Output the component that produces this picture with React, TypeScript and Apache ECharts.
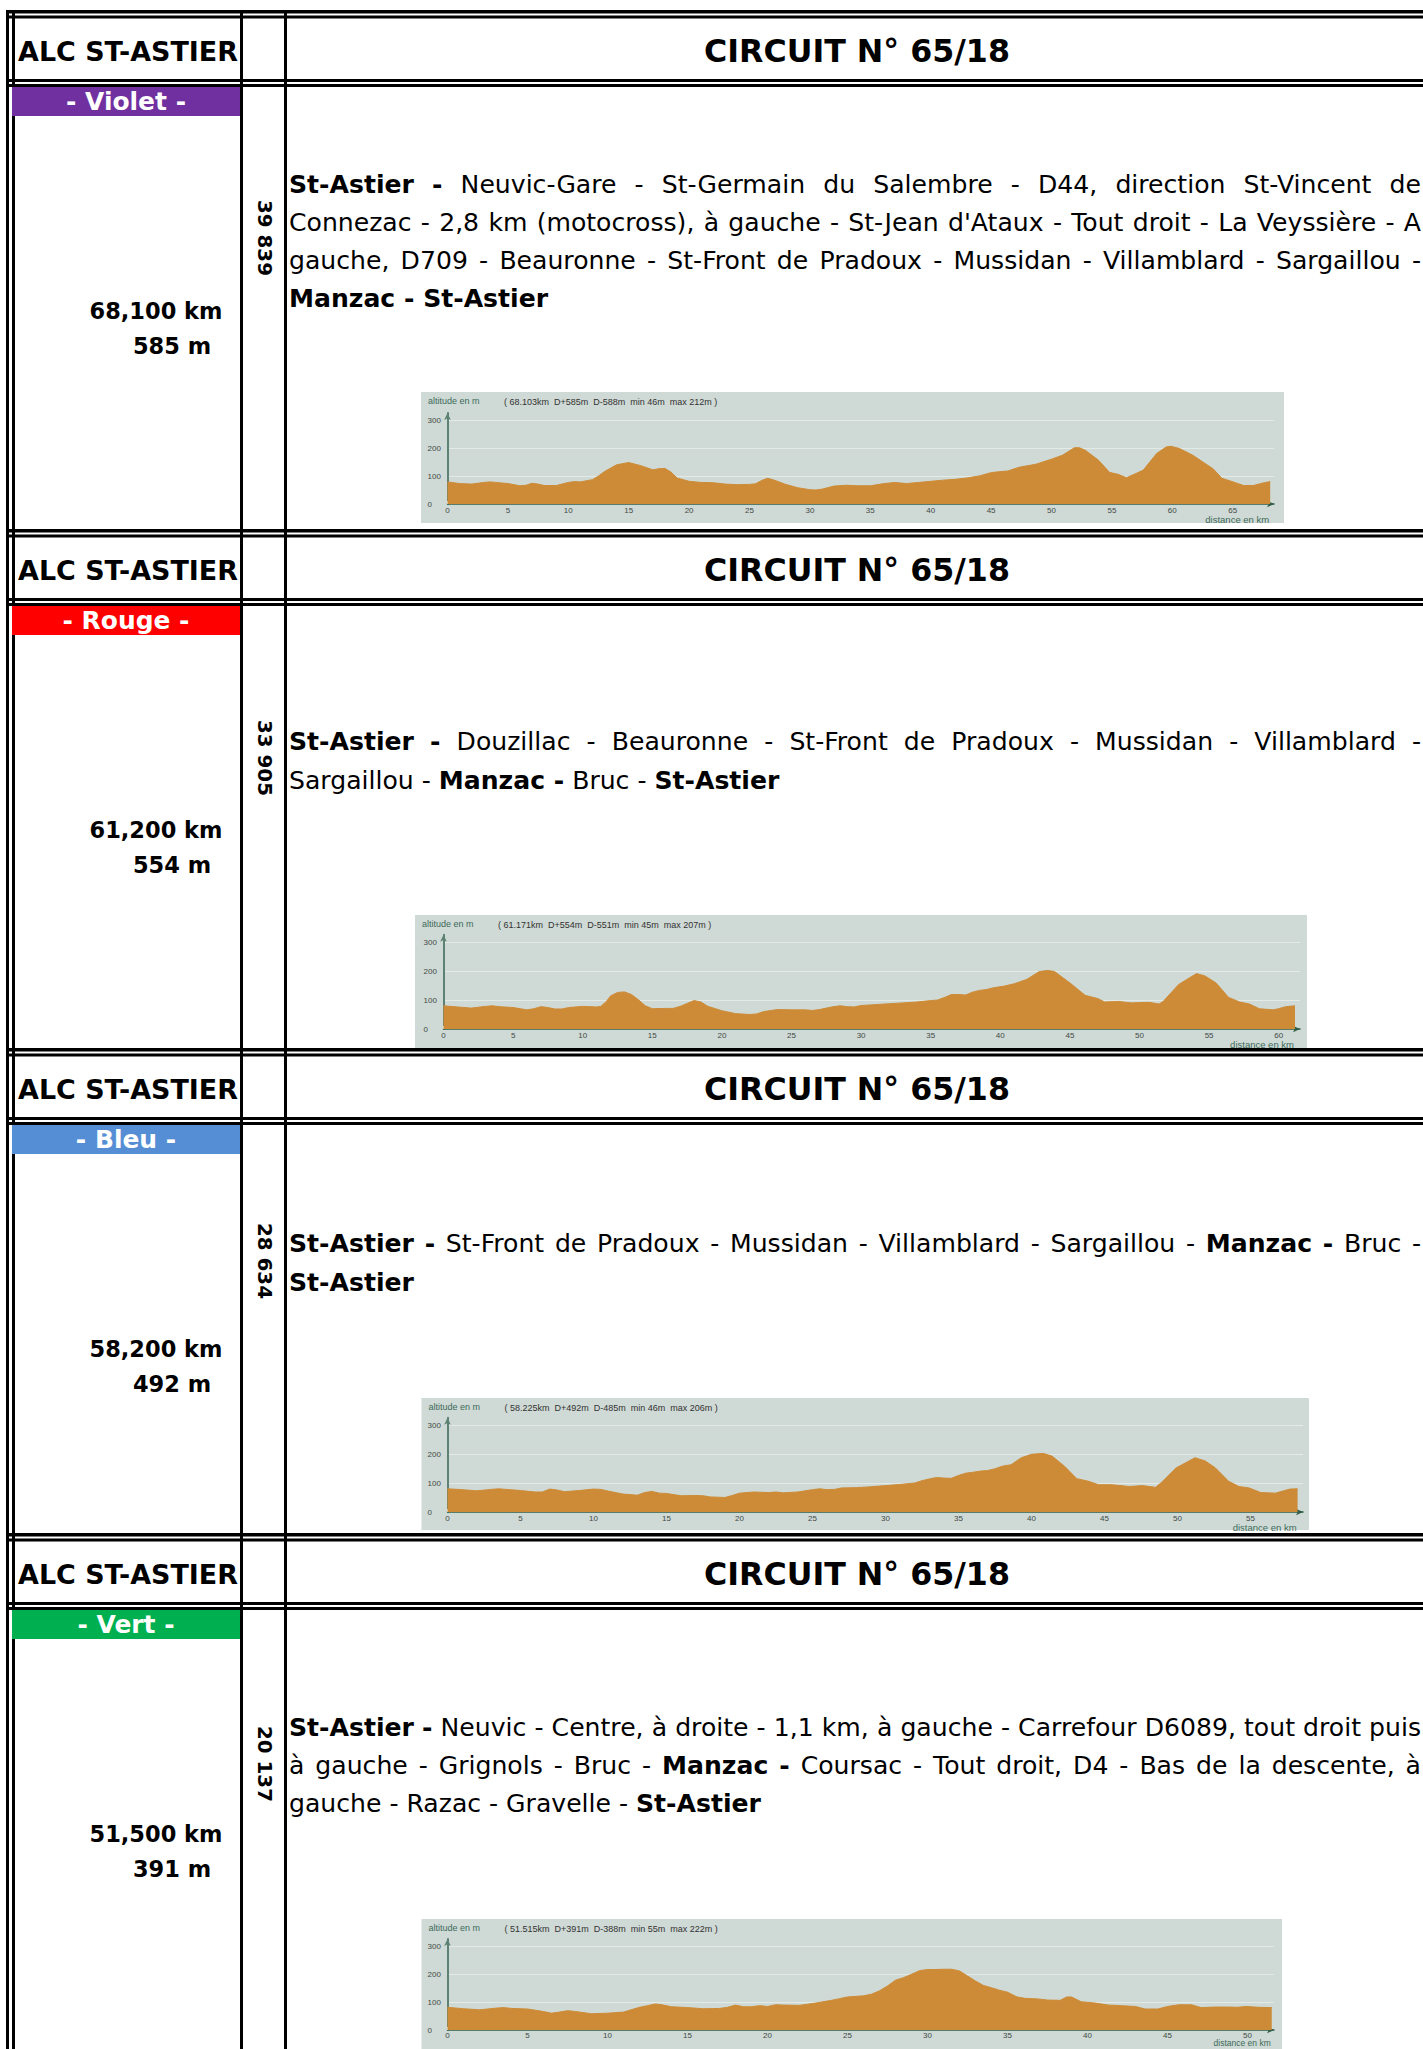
import React, { useEffect, useRef } from 'react';
import * as echarts from 'echarts';

const W = 1423;
const H = 2049;
const BODY_FONT = '"Comic Sans MS", "DejaVu Sans", "Noto Sans", sans-serif';
const SMALL_FONT = '"Liberation Sans", Arial, sans-serif';
const ORANGE = '#cd8b37';
const PANEL_BG = '#cfd9d5';

// ---------- texts ----------
const headerLeft = 'ALC ST-ASTIER';
const headerTitle = 'CIRCUIT N° 65/18';
const colorNames = ['- Violet -', '- Rouge -', '- Bleu -', '- Vert -'];
const bandColors = ['#7030a0', '#ff0000', '#558ed5', '#00b050'];
const distances = ['68,100 km', '61,200 km', '58,200 km', '51,500 km'];
const climbs = ['585 m', '554 m', '492 m', '391 m'];
const codes = ['39 839', '33 905', '28 634', '20 137'];
const stats = [
  '( 68.103km  D+585m  D-588m  min 46m  max 212m )',
  '( 61.171km  D+554m  D-551m  min 45m  max 207m )',
  '( 58.225km  D+492m  D-485m  min 46m  max 206m )',
  '( 51.515km  D+391m  D-388m  min 55m  max 222m )',
];
// [bold] parts in brackets; second item: justified
const routeViolet: [string, boolean][] = [
  ['[St-Astier -] Neuvic-Gare - St-Germain du Salembre - D44, direction St-Vincent de', true],
  ["Connezac - 2,8 km (motocross), à gauche - St-Jean d'Ataux - Tout droit - La Veyssière - A", true],
  ['gauche, D709 - Beauronne - St-Front de Pradoux - Mussidan - Villamblard - Sargaillou -', true],
  ['[Manzac - St-Astier]', false],
];
const routeRouge: [string, boolean][] = [
  ['[St-Astier -] Douzillac - Beauronne - St-Front de Pradoux - Mussidan - Villamblard -', true],
  ['Sargaillou - [Manzac -] Bruc - [St-Astier]', false],
];
const routeBleu: [string, boolean][] = [
  ['[St-Astier -] St-Front de Pradoux - Mussidan - Villamblard - Sargaillou - [Manzac -] Bruc -', true],
  ['[St-Astier]', false],
];
const routeVert: [string, boolean][] = [
  ['[St-Astier -] Neuvic - Centre, à droite - 1,1 km, à gauche - Carrefour D6089, tout droit puis', true],
  ['à gauche - Grignols - Bruc - [Manzac -] Coursac - Tout droit, D4 - Bas de la descente, à', true],
  ['gauche - Razac - Gravelle - [St-Astier]', false],
];
const routes = [routeViolet, routeRouge, routeBleu, routeVert];

// ---------- profile data [km, altitude m] ----------
const violetProfile = [
  [0, 79], [1, 73], [2, 71], [3, 77], [3.5, 79], [4, 77], [5, 73], [6, 65], [6.5, 67], [7, 74], [7.5, 71], [8, 66], [9, 66],
  [10, 77], [10.5, 80], [11, 79], [12, 87], [12.5, 100], [13, 116], [14, 140], [15, 148], [16, 137], [17, 122], [17.5, 126],
  [18, 127], [18.5, 114], [19, 93], [20, 81], [21, 77], [22, 76], [23, 71], [24, 69], [25, 70], [25.5, 72], [26, 84], [26.5, 92],
  [27, 86], [28, 70], [29, 58], [30, 51], [30.5, 50], [31, 53], [32, 64], [33, 67], [34, 65], [35, 65], [36, 72], [37, 77],
  [38, 73], [39, 77], [40, 81], [41, 85], [42, 88], [43, 93], [44, 100], [45, 112], [45.6, 115], [46.4, 118], [47.3, 131],
  [48.7, 142], [50, 160], [50.9, 174], [51.9, 201], [52.3, 201], [52.8, 192], [53.9, 156], [54.8, 113], [55.5, 106], [56.2, 94],
  [57, 109], [57.6, 121], [58.7, 180], [59.5, 204], [59.9, 206], [60.6, 198], [61.7, 174], [62.6, 148], [63.4, 125], [64.1, 92],
  [65.1, 78], [65.9, 66], [66.7, 66], [67.6, 76], [68.103, 80],
];
const rougeProfile = [
  [0, 80], [1, 76], [2, 72], [3, 78], [3.5, 80], [4, 77], [5, 74], [6, 66], [6.5, 70], [7, 77], [7.5, 74], [8, 69], [8.5, 69],
  [9, 74], [10, 78], [11, 76], [11.3, 78], [11.7, 95], [12, 114], [12.5, 126], [13, 128], [13.5, 119], [14, 101], [14.5, 80],
  [15, 70], [16, 71], [16.5, 71], [17, 78], [17.5, 88], [18, 98], [18.5, 93], [19, 78], [20, 63], [21, 53], [22, 50], [22.5, 52],
  [23, 60], [24, 67], [25, 66], [26, 66], [26.5, 64], [27, 67], [28, 77], [28.5, 80], [29, 77], [29.5, 76], [30, 81], [31, 84],
  [32, 87], [33, 90], [34, 93], [35, 98], [35.5, 100], [36, 109], [36.5, 119], [37, 119], [37.5, 117], [38, 127], [38.5, 133],
  [39, 136], [39.5, 142], [40.3, 148], [41, 156], [41.9, 171], [42.8, 198], [43.4, 202], [43.9, 198], [45, 159], [46.1, 116],
  [47, 105], [47.5, 93], [48.5, 95], [49.4, 90], [50.7, 92], [51.4, 86], [51.7, 95], [52.8, 153], [53.4, 171], [54.1, 191],
  [54.7, 183], [55.5, 159], [56.4, 109], [57.2, 93], [57.9, 86], [58.6, 70], [59.6, 66], [60, 70], [60.5, 77], [61.171, 80],
];
const bleuProfile = [
  [0, 80], [1, 77], [2, 73], [3, 78], [3.5, 80], [4, 78], [5, 74], [6, 69], [6.5, 69], [7, 79], [7.5, 76], [8, 70], [9, 74],
  [10, 79], [10.5, 78], [11, 72], [12, 62], [13, 58], [13.5, 67], [14, 71], [14.5, 65], [15, 64], [16, 56], [17, 57], [17.5, 56],
  [18, 52], [19, 50], [19.5, 57], [20, 65], [21, 69], [22, 67], [22.5, 69], [23, 66], [24, 69], [25, 77], [25.5, 80], [26, 77],
  [26.5, 78], [27, 83], [28, 84], [29, 87], [30, 91], [31, 95], [32, 100], [32.5, 108], [33, 114], [33.5, 119], [34, 117],
  [34.5, 116], [35, 126], [35.5, 134], [36, 137], [36.5, 141], [37, 143], [37.5, 149], [38, 158], [38.6, 163], [39.3, 187],
  [40, 199], [40.8, 202], [41.4, 193], [42.3, 156], [43.1, 115], [43.9, 106], [44.6, 94], [45.5, 94], [46.7, 88], [47.6, 91],
  [48.5, 85], [48.9, 102], [49.9, 152], [51.2, 187], [51.9, 176], [52.6, 152], [53.5, 106], [54.2, 88], [54.9, 83], [55.7, 67],
  [56.7, 65], [57.7, 79], [58.225, 80],
];
const vertProfile = [
  [0, 81], [1, 76], [2, 72], [3, 78], [3.5, 80], [4, 77], [5, 75], [6, 66], [6.5, 60], [7, 64], [7.5, 69], [8, 66], [9, 58],
  [10, 60], [11, 64], [12, 81], [12.5, 87], [13, 93], [13.5, 89], [14, 83], [15, 80], [16, 76], [17, 77], [17.5, 81], [18, 89],
  [18.5, 83], [19, 83], [19.5, 87], [20, 84], [20.5, 90], [21, 89], [22, 88], [22.5, 92], [23, 96], [24, 106], [24.5, 112],
  [25, 118], [26, 122], [26.5, 128], [27, 140], [27.5, 157], [28, 178], [28.5, 187], [29, 199], [29.5, 212], [30, 216],
  [30.5, 216], [31, 217], [31.5, 217], [32, 211], [32.5, 193], [33, 175], [33.5, 159], [34, 151], [34.5, 142], [35, 135],
  [35.6, 118], [36.1, 113], [36.9, 111], [37.5, 107], [38.3, 106], [38.7, 118], [39, 118], [39.6, 101], [40.5, 96], [41.3, 89],
  [42.1, 87], [43, 84], [43.6, 75], [44.4, 75], [45, 84], [45.7, 90], [46.5, 90], [47.1, 80], [48, 82], [48.8, 82], [49.4, 81],
  [49.9, 84], [50.7, 81], [51.515, 80],
];
const profiles = [violetProfile, rougeProfile, bleuProfile, vertProfile];
const profileEnds = [68.103, 61.171, 58.225, 51.515];
const altitudeTicks = [0, 100, 200, 300];

// ---------- layout ----------
const sectionTops = [10, 529, 1048, 1533];
const textLineYs = [[184, 222, 260, 298], [741, 780], [1243, 1282], [1727, 1765, 1803]];
const codeYs = [238, 758, 1261, 1764];
const chartLayouts = [
  { box: [421, 392, 863, 131], ox: 447.5, oy: 504, pxKm: 12.08, px100: 28, xEnd: 1274 },
  { box: [415, 915, 892, 133], ox: 443.5, oy: 1029, pxKm: 13.92, px100: 29, xEnd: 1300 },
  { box: [421.5, 1398, 887.5, 132], ox: 447.5, oy: 1512, pxKm: 14.6, px100: 29, xEnd: 1303 },
  { box: [421.5, 1919, 860.5, 135], ox: 447.5, oy: 2030, pxKm: 16.0, px100: 28, xEnd: 1274 },
];
const TEXT_L = 289;
const TEXT_R = 1421;

function parseWords(line: string) {
  const words: { t: string; b: boolean }[] = [];
  let bold = false;
  let cur = '';
  let curBold = false;
  for (const ch of line) {
    if (ch === '[') { bold = true; continue; }
    if (ch === ']') { bold = false; continue; }
    if (ch === ' ') {
      if (cur) { words.push({ t: cur, b: curBold }); cur = ''; }
      continue;
    }
    if (!cur) curBold = bold;
    cur += ch;
  }
  if (cur) words.push({ t: cur, b: curBold });
  return words;
}

function buildOption() {
  const ctx = document.createElement('canvas').getContext('2d')!;
  const measure = (t: string, size: number, bold: boolean, family = BODY_FONT) => {
    ctx.font = `${bold ? 'bold ' : ''}${size}px ${family}`;
    return ctx.measureText(t).width;
  };
  const fit = (t: string, bold: boolean, target: number, cap: number) =>
    Math.min(cap, (30 * target) / measure(t, 30, bold));

  const g: any[] = [];
  const txt = (x: number, y: number, text: string, size: number, o: any = {}) =>
    g.push({
      type: 'text', x, y, z: 10, silent: true, rotation: o.rotation || 0,
      style: {
        text, fontSize: size, fontWeight: o.bold ? 'bold' : 'normal', fontFamily: o.family || BODY_FONT,
        fill: o.fill || '#000', textAlign: o.align || 'left', textVerticalAlign: 'middle',
      },
    });
  const rect = (x: number, y: number, w: number, h: number, fill: string, z = 5) =>
    g.push({ type: 'rect', z, silent: true, shape: { x, y, width: w, height: h }, style: { fill } });

  // borders
  rect(6, 10, 3, H - 10, '#000');
  rect(12, 10, 3, H - 10, '#000');
  rect(240, 10, 3, H - 10, '#000');
  rect(284, 10, 3, H - 10, '#000');
  sectionTops.forEach((T) => {
    rect(6, T, W - 6, 3.5, '#000');
    rect(6, T + 5.5, W - 6, 3, '#000');
    rect(6, T + 69, W - 6, 3, '#000');
    rect(6, T + 74, W - 6, 3, '#000');
  });

  const headerSize = fit(headerLeft, true, 220, 30);
  const titleSize = fit(headerTitle, true, 306, 38);
  const plain2 = routeViolet[1][0].replace(/[\[\]]/g, '');
  const bodySize = Math.max(22, Math.min(26.5, (25 * 1110) / measure(plain2, 25, false)));
  const codeSize = fit(codes[0], true, 76, 26);
  const kmSize = fit(distances[0], true, 133, 27);
  const bandSize = fit(colorNames[0], true, 120, 25);

  sectionTops.forEach((T, i) => {
    txt(128, T + 41, headerLeft, headerSize, { bold: true, align: 'center' });
    txt(857, T + 41, headerTitle, titleSize, { bold: true, align: 'center' });
    rect(12, T + 77, 228, 29, bandColors[i], 6);
    txt(126, T + 91.5, colorNames[i], bandSize, { bold: true, align: 'center', fill: '#fff' });
    txt(156, T + 301, distances[i], kmSize, { bold: true, align: 'center' });
    txt(172, T + 336, climbs[i], kmSize, { bold: true, align: 'center' });
    txt(264, codeYs[i], codes[i], codeSize, { bold: true, align: 'center', rotation: -Math.PI / 2 });

    routes[i].forEach(([line, justify], li) => {
      const y = textLineYs[i][li];
      const words = parseWords(line);
      const space = measure(' ', bodySize, false);
      if (justify) {
        const ws = words.map((w) => measure(w.t, bodySize, w.b));
        const total = ws.reduce((a, b) => a + b, 0);
        const gap = Math.max(space, (TEXT_R - TEXT_L - total) / (words.length - 1));
        let x = TEXT_L;
        words.forEach((w, k) => {
          txt(x, y, w.t, bodySize, { bold: w.b });
          x += ws[k] + gap;
        });
      } else {
        const runs: { t: string; b: boolean }[] = [];
        words.forEach((w) => {
          const last = runs[runs.length - 1];
          if (last && last.b === w.b) last.t += ' ' + w.t;
          else runs.push({ t: w.t, b: w.b });
        });
        let x = TEXT_L;
        runs.forEach((r) => {
          txt(x, y, r.t, bodySize, { bold: r.b });
          x += measure(r.t, bodySize, r.b) + space;
        });
      }
    });
  });

  // chart panels
  const grids: any[] = [];
  const xAxes: any[] = [];
  const yAxes: any[] = [];
  chartLayouts.forEach((c, i) => {
    const [bx, by, bw, bh] = c.box;
    rect(bx, by, bw, bh, PANEL_BG, -1);
    txt(bx + 7, by + 9, 'altitude en m', 9, { family: SMALL_FONT, fill: '#3d6b5a' });
    txt(bx + 83, by + 10, stats[i], 9, { family: SMALL_FONT, fill: '#333' });
    const distY = Math.min(c.oy + 15.5, H - 6.5);
    txt(c.ox + profileEnds[i] * c.pxKm - 1, distY, 'distance en km', distY < c.oy + 15.5 ? 8.5 : 9.5, {
      family: SMALL_FONT, fill: '#3d6b5a', align: 'right',
    });
    const top = c.oy - 3.25 * c.px100;
    grids.push({
      left: c.ox, top, width: c.xEnd - c.ox, height: 3.25 * c.px100,
      containLabel: false, outerBoundsMode: 'none', show: false,
    });
    xAxes.push({
      type: 'value', gridIndex: i, min: 0, max: (c.xEnd - c.ox) / c.pxKm, interval: 5,
      axisLine: {
        show: true, onZero: false, symbol: ['none', 'arrow'], symbolSize: [5, 7],
        lineStyle: { color: '#2f5d47', width: 1.5 },
      },
      axisTick: { show: true, inside: true, length: 3, lineStyle: { color: '#eef2ef', width: 1 } },
      axisLabel: {
        fontSize: 8, color: '#3f4a45', margin: i === 3 ? 1.5 : 2.5, fontFamily: SMALL_FONT, showMaxLabel: false,
      },
      splitLine: { show: false },
    });
    yAxes.push({
      type: 'value', gridIndex: i, min: altitudeTicks[0], max: 325, interval: altitudeTicks[1] - altitudeTicks[0],
      axisLine: {
        show: true, onZero: false, symbol: ['none', 'arrow'], symbolSize: [5, 7],
        lineStyle: { color: '#5d8273', width: 2 },
      },
      axisTick: { show: false },
      axisLabel: {
        fontSize: 8, color: '#3f4a45', margin: 20, align: 'left', fontFamily: SMALL_FONT, showMaxLabel: false,
      },
      splitLine: { show: true, showMinLine: false, showMaxLine: false, lineStyle: { color: '#e4eae6', width: 1 } },
    });
  });

  return {
    animation: false,
    backgroundColor: '#fff',
    grid: grids,
    xAxis: xAxes,
    yAxis: yAxes,
    graphic: { elements: g },
    series: profiles.map((p, i) => ({
      type: 'line', xAxisIndex: i, yAxisIndex: i, data: p, symbol: 'none', showSymbol: false, silent: true,
      lineStyle: { width: 1, color: ORANGE }, areaStyle: { color: ORANGE, opacity: 1 }, z: 3,
    })),
  };
}

export default function App() {
  const ref = useRef<HTMLDivElement>(null);
  useEffect(() => {
    const el = ref.current!;
    const chart = echarts.init(el, null, { renderer: 'svg', width: W, height: H });
    chart.setOption(buildOption() as any);
    return () => chart.dispose();
  }, []);
  return (
    <div
      ref={ref}
      style={{ position: 'fixed', left: 0, top: 0, width: W, height: H, background: '#fff', overflow: 'hidden' }}
    />
  );
}
